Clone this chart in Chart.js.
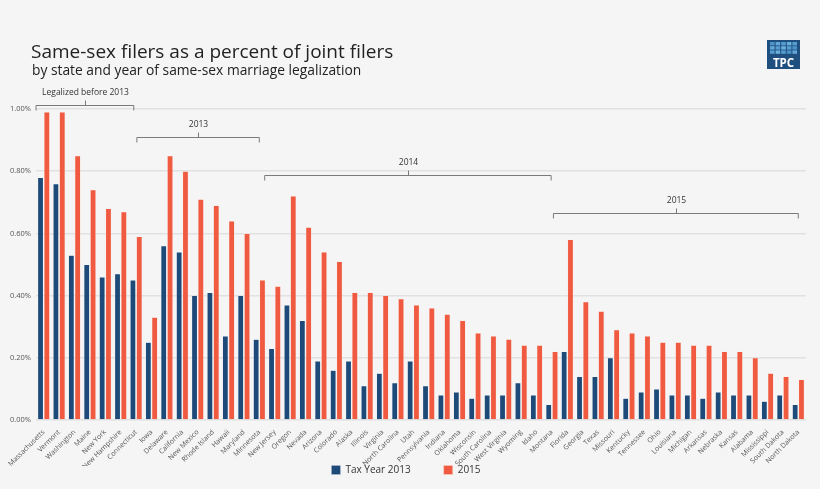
<!DOCTYPE html>
<html>
<head>
<meta charset="utf-8">
<script src="https://cdn.jsdelivr.net/npm/chart.js@4"></script>
<style>
  html, body { margin: 0; padding: 0; background: #f5f5f5; }
  #wrap { width: 820px; height: 489px; }
</style>
</head>
<body>
<div id="wrap"><canvas id="chart"></canvas></div>
<script>
const states = [
    'Massachusetts', 'Vermont', 'Washington', 'Maine', 'New York', 'New Hampshire', 'Connecticut',
    'Iowa', 'Delaware', 'California', 'New Mexico', 'Rhode Island', 'Hawaii', 'Maryland', 'Minnesota',
    'New Jersey', 'Oregon', 'Nevada', 'Arizona', 'Colorado', 'Alaska', 'Illinois', 'Virginia',
    'North Carolina', 'Utah', 'Pennsylvania', 'Indiana', 'Oklahoma', 'Wisconsin', 'South Carolina',
    'West Virginia', 'Wyoming', 'Idaho', 'Montana',
    'Florida', 'Georgia', 'Texas', 'Missouri', 'Kentucky', 'Tennessee', 'Ohio', 'Louisiana',
    'Michigan', 'Arkansas', 'Nebraska', 'Kansas', 'Alabama', 'Mississippi', 'South Dakota', 'North Dakota'
];

const year2013 = [
    0.78, 0.76, 0.53, 0.50, 0.46, 0.47, 0.45,
    0.25, 0.56, 0.54, 0.40, 0.41, 0.27, 0.40, 0.26,
    0.23, 0.37, 0.32, 0.19, 0.16, 0.19, 0.11, 0.15,
    0.12, 0.19, 0.11, 0.08, 0.09, 0.07, 0.08,
    0.08, 0.12, 0.08, 0.05,
    0.22, 0.14, 0.14, 0.20, 0.07, 0.09, 0.10, 0.08,
    0.08, 0.07, 0.09, 0.08, 0.08, 0.06, 0.08, 0.05
];

const year2015 = [
    0.99, 0.99, 0.85, 0.74, 0.68, 0.67, 0.59,
    0.33, 0.85, 0.80, 0.71, 0.69, 0.64, 0.60, 0.45,
    0.43, 0.72, 0.62, 0.54, 0.51, 0.41, 0.41, 0.40,
    0.39, 0.37, 0.36, 0.34, 0.32, 0.28, 0.27,
    0.26, 0.24, 0.24, 0.22,
    0.58, 0.38, 0.35, 0.29, 0.28, 0.27, 0.25, 0.25,
    0.24, 0.24, 0.22, 0.22, 0.20, 0.15, 0.14, 0.13
];

const yTicks = [0, 0.2, 0.4, 0.6, 0.8, 1.0];

// legalization groups: label, first state, last state
const groupLabels = ['Legalized before 2013', '2013', '2014', '2015'];
const groupFirst = ['Massachusetts', 'Iowa', 'New Jersey', 'Florida'];
const groupLast = ['Connecticut', 'Minnesota', 'Montana', 'North Dakota'];

const NAVY = '#1d4a79';
const ORANGE = '#f05a40';
const FONT = "'Open Sans', sans-serif";

const background = {
    id: 'background',
    beforeDraw(chart) {
        const ctx = chart.ctx;
        ctx.save();
        ctx.fillStyle = '#f5f5f5';
        ctx.fillRect(0, 0, chart.width, chart.height);
        ctx.restore();
    }
};

// legend keeps wide spacing between items but takes little room in the layout
const legendPlace = {
    id: 'legendPlace',
    beforeInit(chart) {
        const fit = chart.legend.fit;
        chart.legend.fit = function () {
            fit.call(this);
            this.height = 20;
        };
    },
    afterLayout(chart) {
        const lg = chart.legend;
        lg.top = 432;
        lg.bottom = chart.height;
        lg.height = lg.bottom - lg.top;
    }
};

const headings = {
    id: 'headings',
    afterDraw(chart) {
        const ctx = chart.ctx;
        ctx.save();
        ctx.fillStyle = '#222';
        ctx.textBaseline = 'alphabetic';
        ctx.textAlign = 'left';
        ctx.font = `19px ${FONT}`;
        ctx.fillText('Same-sex filers as a percent of joint filers', 31, 58);
        ctx.font = `13.8px ${FONT}`;
        ctx.fillText('by state and year of same-sex marriage legalization', 32, 75);

        // TPC logo
        const lx = 767, ly = 40, lw = 33, lh = 29;
        ctx.fillStyle = '#1f4f7e';
        ctx.fillRect(lx, ly, lw, lh);
        const shades = ['#4b93c8', '#62a7d8', '#549dd0', '#6aaedc', '#549dd0'];
        for (let r = 0; r < 3; r++) {
            for (let c = 0; c < 5; c++) {
                ctx.fillStyle = shades[(c + r) % shades.length];
                ctx.fillRect(lx + 3 + c * 5.6, ly + 2 + r * 4.2, 4.6, 3.4);
            }
        }
        ctx.fillStyle = '#ffffff';
        ctx.font = `bold 11.5px ${FONT}`;
        ctx.textAlign = 'center';
        ctx.fillText('TPC', lx + lw / 2, ly + 26.5);
        ctx.restore();
    }
};

const brackets = {
    id: 'brackets',
    afterDraw(chart, args, opts) {
        const ctx = chart.ctx;
        const x = chart.scales.x;
        const y = chart.scales.y;
        const cw = x.getPixelForValue(1) - x.getPixelForValue(0);
        ctx.save();
        ctx.strokeStyle = '#7a7a7a';
        ctx.lineWidth = 1;
        ctx.fillStyle = '#333';
        ctx.font = `8.5px ${FONT}`;
        ctx.textAlign = 'center';
        ctx.textBaseline = 'middle';
        groupLabels.forEach((label, i) => {
            const a = states.indexOf(groupFirst[i]);
            const b = states.indexOf(groupLast[i]);
            const left = Math.max(chart.chartArea.left, x.getPixelForValue(a) - cw * opts.startShift[i]);
            const right = x.getPixelForValue(b) - cw * opts.endShift[i];
            const py = Math.round(y.getPixelForValue(opts.levels[i])) + 0.5;
            const mid = Math.round((left + right) / 2) + 0.5;
            ctx.beginPath();
            ctx.moveTo(left, py + 5);
            ctx.lineTo(left, py);
            ctx.lineTo(right, py);
            ctx.lineTo(right, py + 5);
            ctx.moveTo(mid, py);
            ctx.lineTo(mid, py - 5);
            ctx.stroke();
            ctx.fillText(label, mid, py - 13);
        });
        ctx.restore();
    }
};

new Chart(document.getElementById('chart'), {
    type: 'bar',
    data: {
        labels: states,
        datasets: [
            {
                label: 'Tax Year 2013',
                data: year2013,
                backgroundColor: NAVY,
                borderColor: 'rgba(255,255,255,0.35)',
                borderWidth: 0.5,
                categoryPercentage: 0.82,
                barPercentage: 0.92
            },
            {
                label: '2015',
                data: year2015,
                backgroundColor: ORANGE,
                borderColor: 'rgba(255,220,210,0.8)',
                borderWidth: 0.5,
                categoryPercentage: 0.82,
                barPercentage: 0.92
            }
        ]
    },
    options: {
        responsive: true,
        maintainAspectRatio: false,
        animation: false,
        devicePixelRatio: 1,
        layout: {
            padding: { top: 109, left: 6, right: 14, bottom: 3 }
        },
        scales: {
            x: {
                grid: { display: false },
                border: { display: false },
                afterFit: scale => {
                    scale.height = 46;
                },
                ticks: {
                    autoSkip: false,
                    minRotation: 45,
                    maxRotation: 45,
                    padding: 0,
                    color: '#555',
                    font: { family: FONT, size: 7 }
                }
            },
            y: {
                min: 0,
                max: 1,
                afterBuildTicks: scale => {
                    scale.ticks = yTicks.map(v => ({ value: v }));
                },
                afterFit: scale => {
                    scale.width = 30;
                },
                grid: {
                    color: '#e1e1e1',
                    lineWidth: 1.5,
                    drawTicks: false
                },
                border: { display: false },
                ticks: {
                    padding: 5,
                    color: '#555',
                    font: { family: FONT, size: 7.5 },
                    callback: v => v.toFixed(2) + '%'
                }
            }
        },
        plugins: {
            legend: {
                position: 'bottom',
                labels: {
                    boxWidth: 9,
                    boxHeight: 9,
                    padding: 33,
                    color: '#333',
                    font: { family: FONT, size: 10 }
                }
            },
            tooltip: { enabled: false },
            brackets: {
                levels: [1.013, 0.911, 0.788, 0.665],
                startShift: [0.5, 0.95, 0.65, 0.9],
                endShift: [0.15, 0, 0.05, 0]
            }
        }
    },
    plugins: [background, legendPlace, headings, brackets]
});
</script>
</body>
</html>
